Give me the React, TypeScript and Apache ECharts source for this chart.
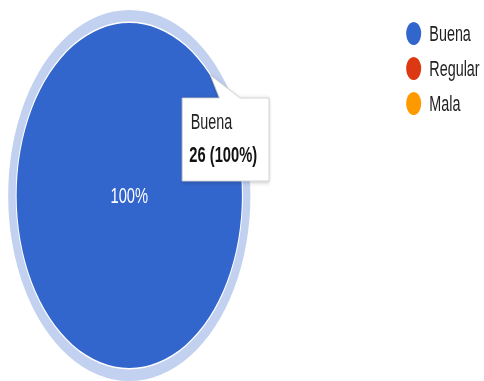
import React, { useEffect, useRef } from "react";
import * as echarts from "echarts";

const categories = ["Buena", "Regular", "Mala"];
const values = [26, 0, 0];
const colors = ["#3366cc", "#dc3912", "#ff9900"];
const highlightIndex = 0;

const SCALE_X = 0.653;
const BASE_W = Math.round(484 / SCALE_X);
const BASE_H = 381;

export default function App() {
  const ref = useRef<HTMLDivElement>(null);
  useEffect(() => {
    if (!ref.current) return;
    const chart = echarts.init(ref.current, undefined, { renderer: "svg" });
    const total = values.reduce((a, b) => a + b, 0);
    const hiName = categories[highlightIndex];
    const hiVal = values[highlightIndex];
    const hiPct = Math.round((hiVal / total) * 100);
    const data = categories.map((c, i) => ({ name: c, value: values[i], itemStyle: { color: colors[i] } }));
    const font = "Arial, 'Liberation Sans', sans-serif";
    const bx = 279, by = 98, bw = 133, bh = 83;
    chart.setOption({
      animation: false,
      legend: {
        orient: "vertical",
        left: 617,
        top: 17,
        itemWidth: 38,
        itemHeight: 23,
        itemGap: 12,
        icon: "circle",
        data: categories,
        textStyle: { fontSize: 22, color: "#222", fontFamily: font },
      },
      series: [
        {
          type: "pie",
          center: [198, 195.5],
          radius: [0, 172.5],
          data,
          itemStyle: { borderWidth: 0 },
          label: {
            show: true,
            position: "center",
            color: "#fff",
            fontSize: 22.5,
            fontFamily: font,
            formatter: (p: any) => (p.value > 0 ? `${Math.round(p.percent)}%` : ""),
          },
          labelLine: { show: false },
        },
        {
          type: "pie",
          center: [198, 195.5],
          radius: [174, 185.5],
          silent: true,
          legendHoverLink: false,
          data: categories.map((c, i) => ({
            name: c,
            value: i === highlightIndex ? values[i] : 0,
            itemStyle: { color: "#c2d1f0" },
          })),
          label: { show: false },
          labelLine: { show: false },
          itemStyle: { borderWidth: 0 },
        },
      ],
      graphic: [
        {
          type: "group",
          z: 100,
          children: [
            {
              type: "polygon",
              z: 100,
              shape: {
                points: [
                  [bx, by],
                  [336, by],
                  [322, 75],
                  [367.5, by],
                  [bx + bw, by],
                  [bx + bw, by + bh],
                  [bx, by + bh],
                ],
              },
              style: {
                fill: "#fff",
                stroke: "#cccccc",
                lineWidth: 1,
                shadowBlur: 4,
                shadowColor: "rgba(0,0,0,0.25)",
                shadowOffsetY: 1,
              },
            },
            {
              type: "text",
              z: 101,
              x: 292,
              y: 121.5,
              style: { text: hiName, fontSize: 22, fill: "#222", fontFamily: font, verticalAlign: "middle" },
            },
            {
              type: "text",
              z: 101,
              x: 290,
              y: 154.5,
              style: {
                text: `${hiVal} (${hiPct}%)`,
                fontSize: 22.5,
                fontWeight: "bold",
                fill: "#111",
                fontFamily: font,
                verticalAlign: "middle",
              },
            },
          ],
        },
      ],
    });
    return () => chart.dispose();
  }, []);
  return (
    <div style={{ position: "fixed", left: 0, top: 0, width: 484, height: 381, overflow: "hidden", background: "#fff" }}>
      <div
        ref={ref}
        style={{ width: BASE_W, height: BASE_H, transform: `scaleX(${SCALE_X})`, transformOrigin: "0 0" }}
      />
    </div>
  );
}
